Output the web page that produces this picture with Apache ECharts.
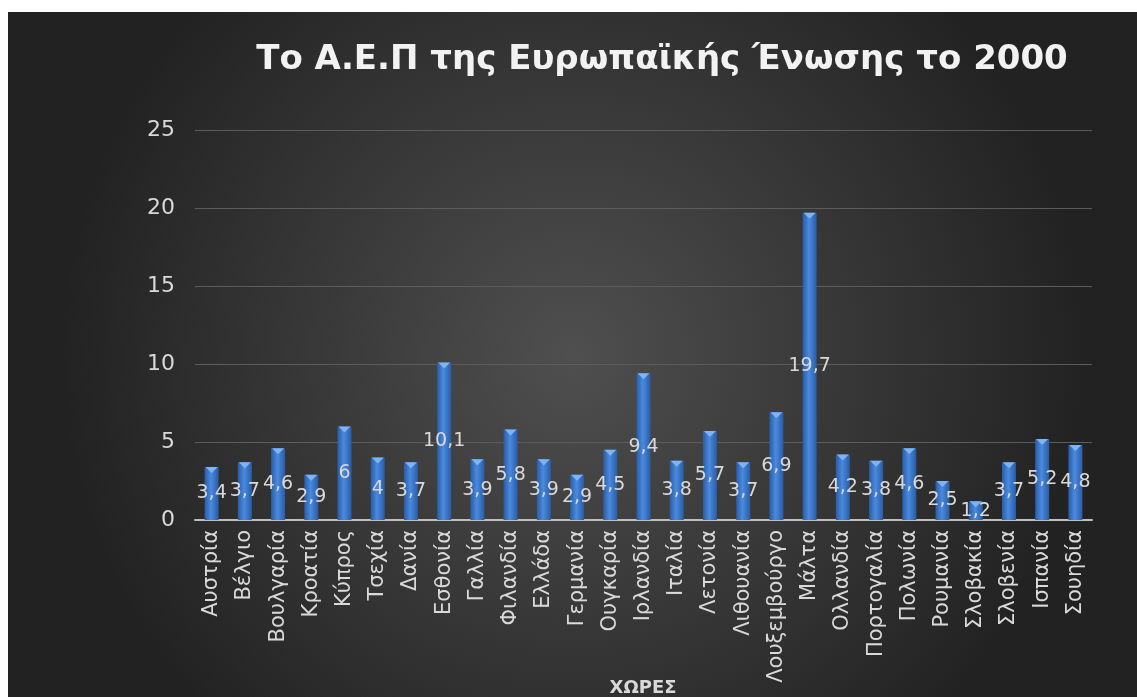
<!DOCTYPE html>
<html>
<head>
<meta charset="utf-8">
<script src="https://cdn.jsdelivr.net/npm/echarts@6/dist/echarts.min.js"></script>
<style>
html,body{margin:0;padding:0;background:#ffffff;width:1137px;height:697px;overflow:hidden;}
#chart{position:absolute;left:8px;top:12px;width:1129px;height:685px;}
</style>
</head>
<body>
<div id="chart"></div>
<script>
const titleText = 'Το Α.Ε.Π της Ευρωπαϊκής Ένωσης το 2000';
const axisName = 'ΧΩΡΕΣ';
const categories = ['Αυστρία','Βέλγιο','Βουλγαρία','Κροατία','Κύπρος','Τσεχία','Δανία','Εσθονία','Γαλλία','Φιλανδία','Ελλάδα','Γερμανία','Ουγκαρία','Ιρλανδία','Ιταλία','Λετονία','Λιθουανία','Λουξεμβούργο','Μάλτα','Ολλανδία','Πορτογαλία','Πολωνία','Ρουμανία','Σλοβακία','Σλοβενία','Ισπανία','Σουηδία'];
const values = [3.4,3.7,4.6,2.9,6,4,3.7,10.1,3.9,5.8,3.9,2.9,4.5,9.4,3.8,5.7,3.7,6.9,19.7,4.2,3.8,4.6,2.5,1.2,3.7,5.2,4.8];
const yTicks = {min:0, max:25, interval:5};

const FONT = '"DejaVu Sans", sans-serif';
const chart = echarts.init(document.getElementById('chart'));
chart.setOption({
  animation:false,
  backgroundColor:{
    type:'radial', x:0.5, y:0.5, r:0.75,
    colorStops:[{offset:0,color:'#4f4f4f'},{offset:1,color:'#222222'}]
  },
  graphic:[{
    type:'text', x:654, y:48,
    style:{
      text:titleText, fill:'#f2f2f2',
      font:'bold 34px ' + FONT,
      textAlign:'center', textVerticalAlign:'middle',
      shadowBlur:4, shadowColor:'rgba(0,0,0,0.8)', shadowOffsetX:2, shadowOffsetY:2
    }
  },{
    type:'text', x:635, y:676,
    style:{
      text:axisName, fill:'#d9d9d9',
      font:'bold 18px ' + FONT,
      textAlign:'center', textVerticalAlign:'middle'
    }
  }],
  grid:{left:187, right:45, top:118, bottom:177, containLabel:false, outerBoundsMode:'none'},
  xAxis:{
    type:'category', data:categories,
    axisLine:{show:true, lineStyle:{color:'#bfbfbf', width:2}},
    axisTick:{show:false},
    axisLabel:{rotate:90, color:'#d9d9d9', fontSize:21, fontFamily:FONT, margin:10, interval:0}
  },
  yAxis:{
    type:'value', min:yTicks.min, max:yTicks.max, interval:yTicks.interval,
    axisLine:{show:false}, axisTick:{show:false},
    axisLabel:{color:'#d9d9d9', fontSize:22, fontFamily:FONT, margin:20},
    splitLine:{lineStyle:{color:'#5c5c5c', width:1}}
  },
  series:[{
    type:'bar', data:values, barWidth:14,
    itemStyle:{
      color:{type:'linear', x:0, y:0, x2:1, y2:0,
        colorStops:[{offset:0,color:'#2a5ca3'},{offset:0.45,color:'#4a8ae0'},{offset:1,color:'#2a5ca3'}]}
    },
    label:{
      show:true, position:'inside', color:'#d9d9d9', fontSize:19, fontFamily:FONT,
      formatter:p => String(p.value).replace('.', ',')
    },
    z:2
  },{
    type:'pictorialBar', data:values, barGap:'-100%',
    symbol:'path://M0,0 L10,0 L5,6 Z', symbolSize:[12,6], symbolPosition:'end',
    symbolOffset:[0,0],
    itemStyle:{color:'#7fb4f2'},
    silent:true, z:3
  }]
});
</script>
</body>
</html>
